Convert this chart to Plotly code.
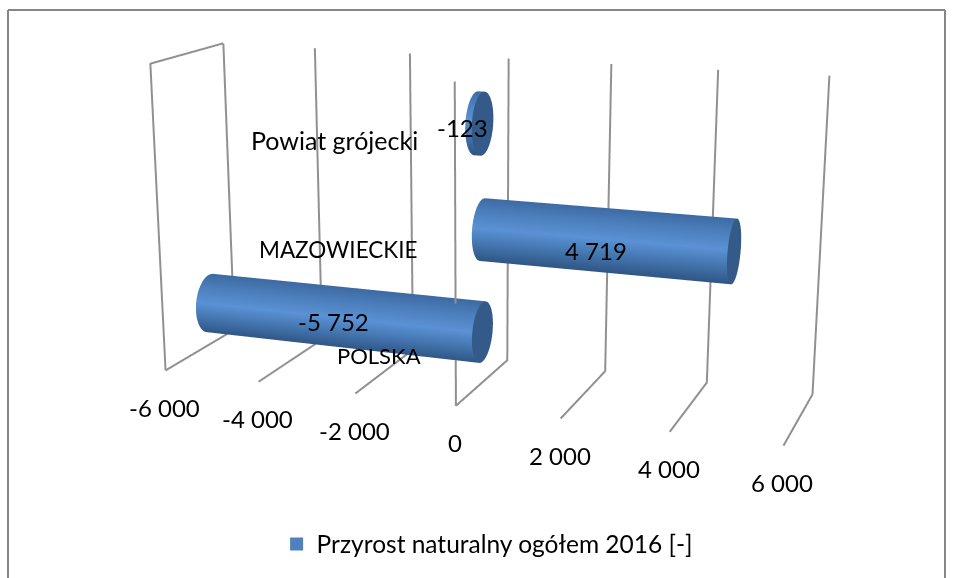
import numpy as np
import plotly.graph_objects as go

categories = ["POLSKA", "MAZOWIECKIE", "Powiat grójecki"]
values = [-5752, 4719, -123]
value_labels = ["-5 752", "4 719", "-123"]
tick_vals = [-6000, -4000, -2000, 0, 2000, 4000, 6000]
tick_labels = ["-6 000", "-4 000", "-2 000", "0", "2 000", "4 000", "6 000"]
legend_name = "Przyrost naturalny ogółem 2016 [-]"

W, FIG_H, OFFSET = 957, 1491, 457   # long-lens camera: tall scene, shifted so its centre sits mid-window
AX, AY, AZ = 2.0, 0.477, 0.992
RADIUS = 0.097
FONT = "Lato"
GRID = "#909090"
FRAME = "#868686"
CAP = "#335a88"
SCALE = [[0, "#2f5685"], [0.22, "#4171a9"], [0.5, "#5a92d5"], [0.8, "#4a7cb9"], [1, "#3d6aa2"]]
VIEW_TILT = np.radians(16)
FLAT = dict(ambient=1, diffuse=0, specular=0, roughness=1, fresnel=0)
LABEL_XSHIFT = [-9, -9, -17]
LABEL_YSHIFT = [-4, -10, -4]
CATEGORY_SIZES = [22, 22.5, 25]
CATEGORY_XSHIFT = [-33, -35, -35]


def py(px):
    return 1 - (px + OFFSET) / FIG_H


fig = go.Figure()

# gridlines: front floor -> back floor -> back top
gx, gy, gz = [], [], []
for t in tick_vals:
    gx += [t, t, t, None]
    gy += [0, 1, 1, None]
    gz += [0, 0, 1, None]
# side wall outline at the axis minimum
m = tick_vals[0]
gx += [m, m, m, None]
gy += [0, 0, 1, None]
gz += [0, 1, 1, None]
# vertical at the zero plane, front edge (interrupted where the first bar passes over it)
gx += [0, 0, None, 0, 0, None]
gy += [0, 0, None, 0, 0, None]
gz += [0, 0.148, None, 0.326, 1, None]
fig.add_trace(go.Scatter3d(x=gx, y=gy, z=gz, mode="lines", line=dict(color=GRID, width=4),
                           showlegend=False, hoverinfo="skip"))

theta = np.linspace(0, 2 * np.pi, 73)
for k, v in enumerate(values):
    zc = (k + 0.5) / len(values)
    cy = 0.5 + RADIUS / AY * np.cos(theta)
    cz = zc + RADIUS / AZ * np.sin(theta)
    X = np.array([np.zeros_like(theta), np.full_like(theta, v)])
    Y = np.array([cy, cy])
    Z = np.array([cz, cz])
    S = np.sin(theta + VIEW_TILT)
    fig.add_trace(go.Surface(x=X, y=Y, z=Z, surfacecolor=np.array([S, S]), colorscale=SCALE, cmin=-1, cmax=1,
                             showscale=False, lighting=FLAT, hoverinfo="skip"))
    # end caps
    for end in (0, v):
        rr = np.array([0.0, 1.0])
        Xc = np.full((2, len(theta)), float(end))
        Yc = 0.5 + np.outer(rr, RADIUS / AY * np.cos(theta))
        Zc = zc + np.outer(rr, RADIUS / AZ * np.sin(theta))
        fig.add_trace(go.Surface(x=Xc, y=Yc, z=Zc, surfacecolor=np.zeros_like(Xc),
                                 colorscale=[[0, CAP], [1, CAP]], showscale=False, lighting=FLAT, hoverinfo="skip"))

# legend entry
fig.add_trace(go.Scatter3d(x=[None], y=[None], z=[None], mode="markers", name=legend_name,
                           marker=dict(symbol="square", size=13, color="#4f81bd"), hoverinfo="skip"))

ann = []
for t, lab in zip(tick_vals, tick_labels):
    ann.append(dict(x=t, y=0, z=0, text=lab, showarrow=False, yshift=-37, xshift=-1))
for k, (cat, v, lab) in enumerate(zip(categories, values, value_labels)):
    zc = (k + 0.5) / len(values)
    ann.append(dict(x=0, y=0, z=zc, text=cat, showarrow=False, xanchor="right",
                    xshift=CATEGORY_XSHIFT[k], yshift=-2, font=dict(size=CATEGORY_SIZES[k])))
    ann.append(dict(x=v / 2, y=0.5, z=zc, text=lab, showarrow=False,
                    xshift=LABEL_XSHIFT[k], yshift=LABEL_YSHIFT[k]))

fig.update_layout(
    width=W, height=FIG_H, margin=dict(l=0, r=0, t=0, b=0), paper_bgcolor="white",
    font=dict(family=FONT, size=24, color="black"),
    showlegend=True,
    legend=dict(x=0.509, y=py(544), xanchor="center", yanchor="middle", bgcolor="rgba(0,0,0,0)",
                font=dict(family=FONT, size=24.5)),
    scene=dict(
        domain=dict(x=[0, 1], y=[0, 1]), bgcolor="rgba(0,0,0,0)",
        aspectmode="manual", aspectratio=dict(x=AX, y=AY, z=AZ),
        camera=dict(eye=dict(x=1.8321, y=-5.0730, z=1.3278),
                    center=dict(x=-0.0130, y=-0.0019, z=-0.1894),
                    up=dict(x=-0.0016, y=0.0014, z=1)),
        xaxis=dict(visible=False, range=[-6000, 6000]),
        yaxis=dict(visible=False, range=[0, 1]),
        zaxis=dict(visible=False, range=[0, 1]),
        annotations=ann,
    ),
    shapes=[
        dict(type="line", xref="paper", yref="paper", x0=8 / W, x1=8 / W, y0=py(10), y1=py(578), line=dict(color=FRAME, width=2)),
        dict(type="line", xref="paper", yref="paper", x0=8 / W, x1=945 / W, y0=py(10), y1=py(10), line=dict(color=FRAME, width=2)),
        dict(type="line", xref="paper", yref="paper", x0=945 / W, x1=945 / W, y0=py(10), y1=py(578), line=dict(color=FRAME, width=2)),
    ],
)
post = ("document.documentElement.style.overflow='hidden';document.body.style.overflow='hidden';"
        "document.body.style.margin='0';var g=document.querySelector('.plotly-graph-div');"
        "g.style.position='absolute';g.style.left='0';g.style.top='-%dpx';" % OFFSET)
fig.write_html("out.html", post_script=post)
